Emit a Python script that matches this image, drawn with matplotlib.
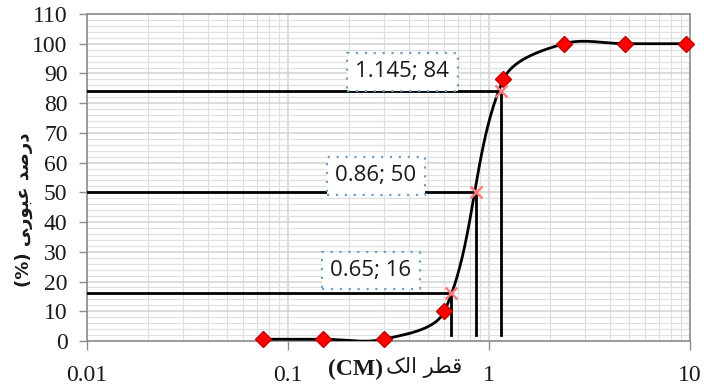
import numpy as np
import matplotlib.pyplot as plt
from matplotlib.ticker import FixedLocator, NullFormatter

#   Sieve analysis data
sieve_d = [0.075, 0.15, 0.3, 0.6, 1.18, 2.36, 4.75, 9.5]
passing = [0.6, 0.6, 0.6, 10, 88, 100, 100, 100]

#   D16, D50, D84
d_marks = [0.65, 0.86, 1.145]
p_marks = [16, 50, 84]
mark_labels = [f"{d}; {p}" for d, p in zip(d_marks, p_marks)]

y_ticks = list(range(0, 111, 10))
x_ticks = [0.01, 0.1, 1, 10]
x_tick_labels = ["0.01", "0.1", "1", "10"]

#   Axis titles (visual order, Arabic presentation forms)
x_title_ar = "\uFB8F\uFEDF\uFE8D \uFEAE\uFEC4\uFED7"
x_title_unit = "(CM)"
y_title = "(%) \uFBFD\uFEAD\uFEEE\uFE92\uFECB \uFEAA\uFEBB\uFEAD\uFEA9"


def smooth(xs, ys, sx=201.0, sy=2.973, n=50):
    # Bezier smoothing, control points scaled by chord lengths (screen units)
    P = np.column_stack([np.log10(xs) * sx, np.asarray(ys, dtype=float) * sy])
    m = len(P)
    d = np.hypot(*np.diff(P, axis=0).T)
    out = []
    for i in range(m - 1):
        p1, p2 = P[i], P[i + 1]
        if i > 0:
            c1 = p1 + (P[i + 1] - P[i - 1]) * d[i] / (d[i - 1] + d[i]) / 3
        else:
            c1 = p1 + (p2 - p1) / 3
        if i + 2 < m:
            c2 = p2 - (P[i + 2] - P[i]) * d[i] / (d[i] + d[i + 1]) / 3
        else:
            c2 = p2 - (p2 - p1) / 3
        t = np.linspace(0, 1, n)[:, None]
        seg = (1 - t) ** 3 * p1 + 3 * (1 - t) ** 2 * t * c1 + 3 * (1 - t) * t ** 2 * c2 + t ** 3 * p2
        out.append(seg)
    out = np.vstack(out)
    return 10 ** (out[:, 0] / sx), out[:, 1] / sy


fig = plt.figure(figsize=(7.04, 3.92), dpi=100)
ax = fig.add_axes([87 / 704, 51 / 392, 603 / 704, 327 / 392])

ax.set_xscale("log")
ax.set_xlim(0.01, 10)
ax.set_ylim(0, 110)

#   Сетка
ax.yaxis.set_major_locator(FixedLocator(y_ticks))
ax.yaxis.set_minor_locator(FixedLocator(list(range(0, 111, 2))))
ax.xaxis.set_major_locator(FixedLocator(x_ticks))
minor_x = [k * 10.0 ** e for e in range(-2, 1) for k in range(2, 10)]
ax.xaxis.set_minor_locator(FixedLocator(minor_x))
ax.xaxis.set_minor_formatter(NullFormatter())
ax.grid(True, which="major", color="#d2d2d2", linewidth=1.1, zorder=0)
ax.grid(True, which="minor", color="#dedede", linewidth=0.8, zorder=0)
ax.set_axisbelow(True)

for s in ax.spines.values():
    s.set_color("#8c8c8c")
    s.set_linewidth(1.2)

ax.tick_params(axis="y", which="major", length=6, width=1, color="#8c8c8c", pad=8,
               labelsize=17, labelcolor="#1a1a1a")
ax.tick_params(axis="x", which="major", length=6.5, width=1, color="#8c8c8c", pad=11,
               labelsize=17, labelcolor="#1a1a1a")
ax.tick_params(which="minor", length=0)
ax.set_xticklabels(x_tick_labels, family="Liberation Serif")
ax.set_yticklabels([str(v) for v in y_ticks], family="Liberation Serif")

#   Отметки D16, D50, D84
for d, p in zip(d_marks, p_marks):
    ax.plot([0.01, d], [p, p], color="black", linewidth=2, zorder=3)
    ax.plot([d, d], [2, p], color="black", linewidth=2, zorder=3)

cx, cy = smooth(sieve_d, passing)
ax.plot(cx, cy, color="black", linewidth=2, zorder=4, solid_capstyle="round")
ax.plot(sieve_d, passing, linestyle="none", marker="D", markersize=8,
        markerfacecolor="#ff0000", markeredgecolor="#c00000", zorder=5, clip_on=False)
ax.plot(d_marks, p_marks, linestyle="none", marker="x", markersize=8,
        markeredgewidth=1.8, color="#ff7b7b", zorder=6)

offsets = [(-58, 16.5), (-72, 12), (-71, 14)]
for d, p, txt, off in zip(d_marks, p_marks, mark_labels, offsets):
    ax.annotate(txt, (d, p), xytext=off, textcoords="offset points",
                ha="center", va="center", fontsize=16, family="Open Sans", color="#1a1a1a",
                bbox=dict(boxstyle="square,pad=0.38", facecolor="white", edgecolor="#6e9fc9",
                          linestyle=(0, (1, 3)), linewidth=1.6),
                zorder=7)

fig.text(383 / 704, 1 - 369 / 392, x_title_unit, ha="right", va="center",
         fontsize=17, fontweight="bold", family="Liberation Serif", color="#1a1a1a")
fig.text(386 / 704, 1 - 368 / 392, x_title_ar, ha="left", va="center",
         fontsize=15, family="DejaVu Sans", color="#1a1a1a")
fig.text(24 / 704, 1 - 210 / 392, y_title, ha="center", va="center", rotation=90,
         fontsize=13, fontweight="bold", family="DejaVu Sans", color="#1a1a1a")

plt.savefig("out.png", dpi=100)
